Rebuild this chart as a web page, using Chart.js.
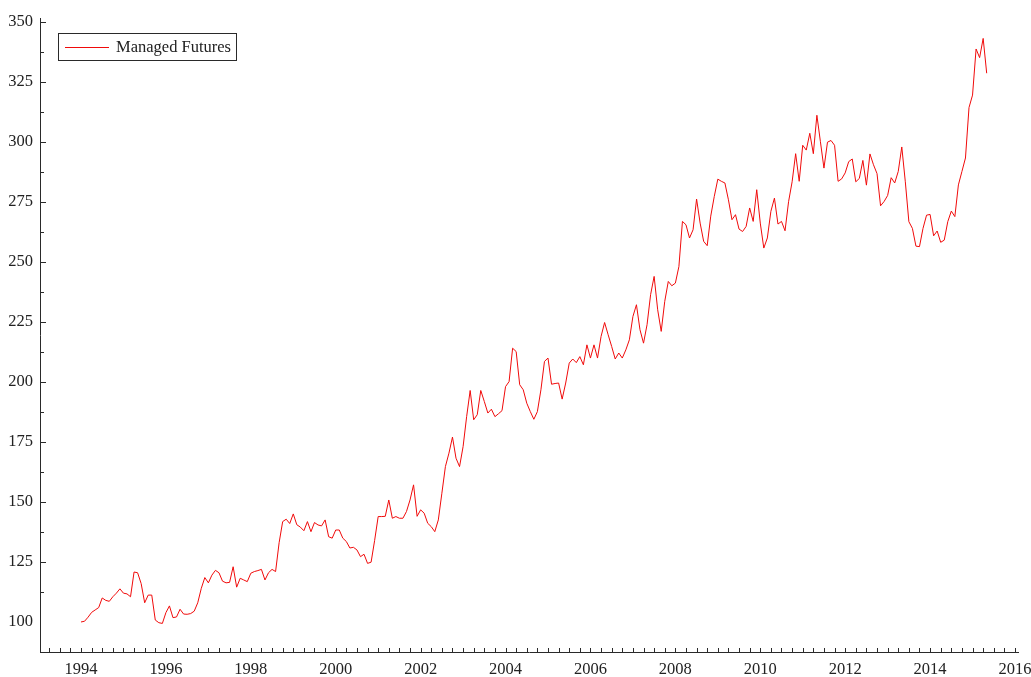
<!DOCTYPE html>
<html>
<head>
<meta charset="utf-8">
<title>Managed Futures</title>
<script src="https://cdn.jsdelivr.net/npm/chart.js@4.4.1/dist/chart.umd.min.js"></script>
<style>
  html, body { margin: 0; padding: 0; background: #fff; }
  #wrap { width: 1031px; height: 677px; }
</style>
</head>
<body>
<div id="wrap"><canvas id="chart" width="1031" height="677"></canvas></div>
<script>
// Monthly index level, Jan 1994 .. May 2015
const START_YEAR = 1994;
const SERIES_LABEL = 'Managed Futures';

const vals1994to1997 = [
  100, 100.3, 102, 104, 105, 106, 110, 109, 108.6, 110.5, 112, 113.8,
  112, 111.7, 110.5, 120.8, 120.5, 116, 108, 111.2, 111.2, 100.8, 99.7, 99.4,
  103.9, 106.7, 101.8, 102.1, 105.3, 103.3, 103.2, 103.5, 104.5, 108, 114, 118.5,
  116.3, 119.5, 121.5, 120.5, 117, 116.3, 116.5, 123, 114.5, 118.2, 117.5, 116.8,
];
const vals1998to2001 = [
  120.3, 121, 121.4, 121.9, 117.5, 120.5, 121.9, 121, 133, 141.8, 142.8, 141,
  145, 140.5, 139.5, 138, 141.8, 137.6, 141.4, 140.4, 140, 142.5, 135.5, 134.9,
  138.3, 138.3, 134.9, 133.5, 130.8, 131.1, 130, 127.2, 128.2, 124.4, 124.9, 134,
  143.9, 143.9, 144, 150.8, 143.2, 143.9, 143.2, 143.2, 146, 150.8, 157.1, 144,
];
const vals2002to2005 = [
  146.7, 145.3, 141.1, 139.7, 137.6, 142.5, 153.6, 164.7, 170.3, 177, 168.2, 164.7,
  173, 185.5, 196.4, 184.2, 186.3, 196.4, 191.8, 187, 188.6, 185.5, 186.7, 188,
  198, 200.1, 214, 212.6, 198.8, 196.7, 191.1, 187.6, 184.4, 187.6, 196.7, 208.5,
  209.9, 199, 199.3, 199.5, 192.8, 199.5, 207.8, 209.5, 208, 210.5, 207.1, 215.4,
];
const vals2006to2009 = [
  209.9, 215.4, 209.9, 218.9, 224.7, 219.6, 214.7, 209.5, 212, 209.9, 213.3, 217.5,
  227.2, 232.1, 221.7, 216.1, 223.8, 236.3, 243.9, 230, 221, 233.5, 241.8, 240,
  241.1, 248, 266.8, 265.4, 259.9, 263.3, 276.1, 266.1, 258.5, 256.7, 269, 277.2,
  284.4, 283.5, 282.8, 275.8, 267.5, 269.6, 263.6, 262.6, 264.7, 272.4, 266.8, 280,
];
const vals2010to2013 = [
  266.1, 255.7, 259.9, 271, 276.5, 265.7, 266.8, 262.9, 275, 283.3, 295, 283.5,
  298.5, 296.5, 303.5, 295, 311, 300, 289, 299.8, 300.5, 298.5, 283.5, 284.5,
  287, 291.7, 292.8, 283.3, 284.7, 292.2, 281.9, 294.9, 290.4, 286.7, 273.3, 275.1,
  277.6, 285, 282.8, 287.6, 297.8, 283.3, 266.7, 263.9, 256.5, 256.3, 263.9, 269.4,
];
const vals2014to2015 = [
  269.7, 260.8, 262.8, 258.1, 259, 266.7, 271.1, 268.8, 282, 287.6, 293.2, 314.2,
  319.4, 338.6, 335, 343, 328.5,
];

const yTickValues = [100, 125, 150, 175, 200, 225, 250, 275, 300, 325, 350];
const xTickYears  = [1994, 1996, 1998, 2000, 2002, 2004, 2006, 2008, 2010, 2012, 2014, 2016];

const RED   = '#f00a0a';
const AXIS  = '#2a2a2a';
const TEXT  = '#222';
const FONT  = '"Liberation Serif", "Times New Roman", serif';
const FSIZE = 16.5;

const monthly = [].concat(vals1994to1997, vals1998to2001, vals2002to2005,
                          vals2006to2009, vals2010to2013, vals2014to2015);
const points = monthly.map((v, i) => ({ x: START_YEAR + i / 12, y: v }));

// short tick marks drawn inside the axes (major + minor)
const insideTicks = {
  id: 'insideTicks',
  afterDraw(chart) {
    const { ctx, chartArea: a, scales: { x, y } } = chart;
    ctx.save();
    ctx.strokeStyle = AXIS;
    ctx.lineWidth = 1;
    ctx.beginPath();
    for (let v = 112.5; v <= 350.01; v += 12.5) {
      const py = Math.round(y.getPixelForValue(v)) + 0.5;
      const len = (v % 25 === 0) ? 6 : 4;
      ctx.moveTo(a.left, py);
      ctx.lineTo(a.left + len, py);
    }
    for (let q = 1993.25; q <= 2016.001; q += 0.25) {
      const px = Math.round(x.getPixelForValue(q)) + 0.5;
      ctx.moveTo(px, a.bottom);
      ctx.lineTo(px, a.bottom - 4);
    }
    ctx.stroke();
    ctx.restore();
  },
};

// boxed legend in the upper-left of the plot
const boxLegend = {
  id: 'boxLegend',
  afterDraw(chart) {
    const { ctx } = chart;
    ctx.save();
    ctx.strokeStyle = AXIS;
    ctx.lineWidth = 1;
    ctx.strokeRect(58.5, 33.5, 178, 27);
    ctx.strokeStyle = RED;
    ctx.beginPath();
    ctx.moveTo(65, 47.5);
    ctx.lineTo(109, 47.5);
    ctx.stroke();
    ctx.fillStyle = TEXT;
    ctx.font = `${FSIZE}px ${FONT}`;
    ctx.textBaseline = 'middle';
    ctx.fillText(SERIES_LABEL, 116, 48);
    ctx.restore();
  },
};

new Chart(document.getElementById('chart'), {
  type: 'line',
  data: {
    datasets: [{
      label:       SERIES_LABEL,
      data:        points,
      borderColor: RED,
      borderWidth: 1,
      pointRadius: 0,
      tension:     0,
      fill:        false,
    }],
  },
  options: {
    responsive: false,
    animation:  false,
    layout: { padding: { top: 18, right: 13, left: 0, bottom: 0 } },
    plugins: {
      legend:  { display: false },
      tooltip: { enabled: false },
    },
    scales: {
      x: {
        type: 'linear',
        min:  1993.0343,
        max:  2016.0707,
        afterFit: s => { s.height = 25; s.paddingLeft = 0; s.paddingRight = 0; },
        afterBuildTicks: s => { s.ticks = xTickYears.map(v => ({ value: v })); },
        grid:   { display: false, drawTicks: false },
        border: { display: true, color: AXIS, width: 1 },
        ticks:  {
          color: TEXT, padding: 8, maxRotation: 0, autoSkip: false,
          font: { family: FONT, size: FSIZE },
          callback: v => String(v),
        },
      },
      y: {
        min: 87.5,
        max: 351.5,
        afterFit: s => { s.width = 40; s.paddingTop = 0; s.paddingBottom = 0; },
        afterBuildTicks: s => { s.ticks = yTickValues.map(v => ({ value: v })); },
        grid:   { display: false, drawTicks: false },
        border: { display: true, color: AXIS, width: 1 },
        ticks:  {
          color: TEXT, padding: 7, autoSkip: false,
          font: { family: FONT, size: FSIZE },
          callback: v => String(v),
        },
      },
    },
  },
  plugins: [insideTicks, boxLegend],
});
</script>
</body>
</html>
